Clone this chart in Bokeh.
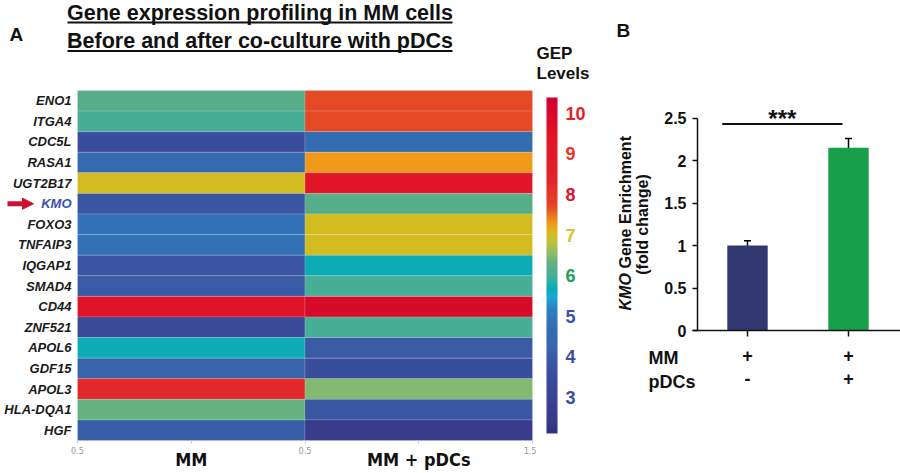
import numpy as np
from bokeh.plotting import figure
from bokeh.layouts import row
from bokeh.models import (Range1d, LinearColorMapper, FixedTicker, Label, Arrow, LinearAxis,
                          NormalHead, Whisker, TeeHead, ColumnDataSource)
from bokeh.transform import transform
from bokeh.embed import file_html
from bokeh.resources import INLINE
from bokeh.core.properties import value

# ---------------- data ----------------
genes = ["ENO1", "ITGA4", "CDC5L", "RASA1", "UGT2B17", "KMO", "FOXO3", "TNFAIP3",
         "IQGAP1", "SMAD4", "CD44", "ZNF521", "APOL6", "GDF15", "APOL3", "HLA-DQA1", "HGF"]
conditions = ["MM", "MM + pDCs"]
gep_mm = [6.2, 6.0, 3.5, 4.5, 7.0, 3.8, 4.8, 4.8, 3.8, 4.0, 9.5, 3.2, 5.7, 4.3, 8.3, 6.3, 4.1]
gep_mm_pdcs = [7.7, 7.7, 4.6, 7.3, 9.4, 6.2, 7.0, 7.0, 5.7, 6.0, 10.0, 6.0, 4.0, 3.5, 6.5, 3.9, 2.5]
highlight_gene = "KMO"
heat_x_ticks = [0, 1, 2]
heat_x_tick_labels = ["0.5", "0.5", "1.5"]
level_ticks = [3, 4, 5, 6, 7, 8, 9, 10]
level_low, level_high = 2.11, 10.39

kmo_groups = ["MM", "MM + pDCs"]
kmo_fold_change = [1.0, 2.15]
kmo_error = [0.055, 0.11]
mm_present = ["+", "+"]
pdcs_present = ["-", "+"]
bar_y_ticks = [0, 0.5, 1, 1.5, 2, 2.5]
bar_y_labels = ["0", "0.5", "1", "1.5", "2", "2.5"]
significance = "***"
sig_from, sig_to, sig_level = 0.75, 1.94, 2.43

# ---------------- styles ----------------
FONT = "Liberation Sans"
NARROW = "Liberation Sans Narrow, DejaVu Sans Condensed, Liberation Sans"
INK = "#111111"
H = 473
anchors = [(2.11, "#2E3480"), (2.5, "#393B8C"), (3.2, "#3A4898"), (3.5, "#3A4D9C"),
           (3.8, "#3A55A2"), (4.0, "#3A5AA6"), (4.3, "#3866AC"), (4.6, "#346CB0"),
           (4.8, "#3271B5"), (5.2, "#2C80C4"), (5.45, "#1CA6DC"), (5.7, "#0BACB4"),
           (6.0, "#48AF98"), (6.2, "#55AE88"), (6.5, "#82BA6E"), (6.8, "#B8C040"),
           (7.0, "#D2BE22"), (7.3, "#F09A1A"), (7.7, "#E44826"), (8.3, "#E2282A"),
           (9.0, "#E01A28"), (9.5, "#E01426"), (10.0, "#D80A2A"), (10.39, "#D00030")]
tick_colors = ["#3C4CA0", "#3C4EA4", "#3C52A8", "#1E9E5A", "#D8C42A", "#E0142C", "#E6362A", "#E2222A"]
bar_colors = ["#30386F", "#17A049"]


def build_palette(anc, low, high, n=256):
    vals = np.array([a[0] for a in anc])
    rgb = np.array([[int(c[i:i + 2], 16) for i in (1, 3, 5)] for _, c in anc], float)
    out = []
    for g in np.linspace(low, high, n):
        r = [int(round(np.interp(g, vals, rgb[:, k]))) for k in range(3)]
        out.append("#%02x%02x%02x" % tuple(r))
    return out


mapper = LinearColorMapper(palette=build_palette(anchors, level_low, level_high),
                           low=level_low, high=level_high)


def make_fig(w, xr, yr):
    f = figure(width=w, height=H, x_range=xr, y_range=yr, min_border=0,
               min_border_left=0, min_border_right=0, min_border_top=0, min_border_bottom=0,
               output_backend="svg", toolbar_location=None, tools="")
    f.grid.visible = False
    f.outline_line_color = None
    return f


# ---------------- heatmap (page px 0..536) ----------------
n = len(genes)
FX0, FX1, FY0, FY1 = 77, 532, 90, 440  # page px of the heatmap cells
SX = len(conditions) / (FX1 - FX0)
SY = n / (FY1 - FY0)


def hx(px):
    return (px - FX0) * SX


def hy(py):
    return (FY1 - py) * SY


p1 = make_fig(536, Range1d(hx(0), hx(536)), Range1d(hy(H), hy(0)))

xs, ys, vs = [], [], []
for ci, series in enumerate([gep_mm, gep_mm_pdcs]):
    for gi, v in enumerate(series):
        xs.append(ci + 0.5)
        ys.append(n - gi - 0.5)
        vs.append(v)
src = ColumnDataSource(dict(x=xs, y=ys, v=vs))
p1.rect(x="x", y="y", width=1, height=1, source=src, fill_color=transform("v", mapper),
        line_color="white", line_alpha=0.2, line_width=0.8)

xa = p1.xaxis[0]
xa.fixed_location = 0
xa.ticker = FixedTicker(ticks=heat_x_ticks, minor_ticks=[0.5, 1.5])
xa.major_label_overrides = {t: l for t, l in zip(heat_x_ticks, heat_x_tick_labels)}
xa.major_label_text_font_size = "9px"
xa.major_label_text_color = "#999999"
xa.major_label_text_font = NARROW
xa.major_label_standoff = 3
xa.axis_line_color = None
xa.major_tick_out = 3
xa.major_tick_in = 0
xa.minor_tick_out = 3
xa.minor_tick_in = 0
xa.major_tick_line_color = "#cccccc"
xa.minor_tick_line_color = "#cccccc"

cond_pos = [i + 0.5 for i in range(len(conditions))]
xa2 = LinearAxis(fixed_location=0, ticker=FixedTicker(ticks=cond_pos),
                 major_label_overrides={p: c for p, c in zip(cond_pos, conditions)},
                 major_label_text_font=NARROW, major_label_text_font_style="bold",
                 major_label_text_font_size="18px", major_label_text_color=INK,
                 major_label_standoff=8, axis_line_color=None, major_tick_line_color=None,
                 minor_tick_line_color=None, major_tick_out=0, minor_tick_out=0)
p1.add_layout(xa2, "below")

ya = p1.yaxis[0]
ya.fixed_location = 0
gene_ticks = [n - i - 0.5 for i, g in enumerate(genes) if g != highlight_gene]
ya.ticker = FixedTicker(ticks=gene_ticks)
ya.major_label_overrides = {n - i - 0.5: g for i, g in enumerate(genes) if g != highlight_gene}
ya.major_label_text_font = FONT
ya.major_label_text_font_style = "bold italic"
ya.major_label_text_font_size = "13px"
ya.major_label_text_color = "#1a1a1a"
ya.major_label_standoff = 6
ya.axis_line_color = None
ya.major_tick_line_color = None
ya.minor_tick_line_color = None
ya.major_tick_out = 0
ya.minor_tick_out = 0

k = genes.index(highlight_gene)
yk = n - k - 0.5
p1.add_layout(Label(x=0, y=yk, x_offset=-6, text=highlight_gene, text_align="right",
                    text_baseline="middle", text_font=FONT, text_font_style="bold italic",
                    text_font_size="13px", text_color="#3A50B4"))
p1.add_layout(Arrow(x_start=hx(7), x_end=hx(33), y_start=yk, y_end=yk, line_color="#CC1030",
                    line_width=5, end=NormalHead(size=11, fill_color="#CC1030", line_color="#CC1030")))

title_lines = ["Gene expression profiling in MM cells", "Before and after co-culture with pDCs"]
for line, mid, ul in zip(title_lines, [12, 40.5], [22, 50.5]):
    p1.add_layout(Label(x=hx(259.5), y=hy(mid), text=line, text_align="center",
                        text_baseline="middle", text_font=FONT, text_font_style="bold",
                        text_font_size="21.5px", text_color=INK))
    p1.line(x=[hx(67), hx(452)], y=[hy(ul), hy(ul)], line_color=INK, line_width=2)
p1.add_layout(Label(x=hx(9), y=hy(34), text="A", text_baseline="middle", text_font=FONT,
                    text_font_style="bold", text_font_size="19px", text_color=INK))

# ---------------- colour scale (page px 536..600) ----------------
CB_TOP, CB_BOT, CB_LEFT = 97, 433, 546
KC = (level_high - level_low) / (CB_BOT - CB_TOP)


def cy(py):
    return level_high + (CB_TOP - py) * KC


p3 = make_fig(64, Range1d(536 - CB_LEFT, 600 - CB_LEFT), Range1d(cy(H), cy(0)))
grad = np.linspace(level_low, level_high, 400).reshape(-1, 1)
p3.image(image=[grad], x=0, y=level_low, dw=11, dh=level_high - level_low, color_mapper=mapper)
p3.text(x=[19] * len(level_ticks), y=level_ticks, text=[str(t) for t in level_ticks],
        text_color=tick_colors, text_font=value(FONT), text_font_style="bold",
        text_font_size="18px", text_baseline="middle", text_align="left")
p3.axis.visible = False
for txt, mid in zip(["GEP", "Levels"], [53, 73]):
    p3.add_layout(Label(x=0, x_offset=-10, y=cy(mid), text=txt, text_baseline="middle",
                        text_font=FONT, text_font_style="bold", text_font_size="17px",
                        text_color=INK))

# ---------------- bar chart (page px 600..900) ----------------
BPX, BPY = 101.0, 85.0


def bx(px):
    return 1 + (px - 747) / BPX


def by(py):
    return (330 - py) / BPY


p2 = make_fig(300, Range1d(bx(600), bx(900)), Range1d(by(H), by(0)))

pos = list(range(1, len(kmo_groups) + 1))
bsrc = ColumnDataSource(dict(x=pos, top=kmo_fold_change, color=bar_colors,
                             upper=[f + e for f, e in zip(kmo_fold_change, kmo_error)],
                             lower=[f - e for f, e in zip(kmo_fold_change, kmo_error)]))
p2.vbar(x="x", top="top", width=0.4, fill_color="color", line_color=None, source=bsrc)
p2.add_layout(Whisker(base="x", upper="upper", lower="lower", source=bsrc, line_width=1.5,
                      upper_head=TeeHead(size=7, line_width=1.5),
                      lower_head=TeeHead(size=7, line_width=1.5)))
p2.line(x=[sig_from, sig_to], y=[sig_level, sig_level], line_color=INK, line_width=2)
p2.add_layout(Label(x=(sig_from + sig_to) / 2, y=by(118), text=significance, text_align="center",
                    text_baseline="middle", text_font=FONT, text_font_style="bold",
                    text_font_size="24px", text_color=INK))

yb = p2.yaxis[0]
yb.fixed_location = bx(697)
yb.ticker = FixedTicker(ticks=bar_y_ticks)
yb.major_label_overrides = {t: l for t, l in zip(bar_y_ticks, bar_y_labels)}
yb.bounds = (0, 2.5)
yb.major_label_text_font = FONT
yb.major_label_text_font_style = "bold"
yb.major_label_text_font_size = "16px"
yb.major_label_text_color = INK
yb.major_label_standoff = 6
yb.axis_line_width = 1.5
yb.axis_line_color = INK
yb.major_tick_line_width = 1.5
yb.major_tick_line_color = INK
yb.major_tick_out = 5
yb.major_tick_in = 0
yb.minor_tick_line_color = None

label_style = dict(major_label_text_font=FONT, major_label_text_font_style="bold",
                   major_label_text_font_size="18px", major_label_text_color=INK)
xb = p2.xaxis[0]
xb.fixed_location = 0
xb.ticker = FixedTicker(ticks=pos)
xb.major_label_overrides = {p: m for p, m in zip(pos, mm_present)}
xb.bounds = (bx(692), bx(900))
xb.axis_line_width = 1.5
xb.axis_line_color = INK
xb.major_tick_line_width = 1.5
xb.major_tick_line_color = INK
xb.major_tick_out = 6
xb.major_tick_in = 0
xb.minor_tick_line_color = None
xb.major_label_standoff = 12
for kk, vv in label_style.items():
    setattr(xb, kk, vv)

xb2 = LinearAxis(fixed_location=0, ticker=FixedTicker(ticks=pos),
                 major_label_overrides={p: m for p, m in zip(pos, pdcs_present)},
                 major_label_standoff=41, axis_line_color=None, major_tick_line_color=None,
                 minor_tick_line_color=None, major_tick_out=0, minor_tick_out=0, **label_style)
p2.add_layout(xb2, "below")

# y-axis title (rotated)
p2.add_layout(Label(x=bx(625), y=by(310), text="KMO", angle=np.pi / 2, text_align="left",
                    text_baseline="middle", text_font=FONT, text_font_style="bold italic",
                    text_font_size="16px", text_color=INK))
p2.add_layout(Label(x=bx(625), y=by(268), text="Gene Enrichment", angle=np.pi / 2, text_align="left",
                    text_baseline="middle", text_font=FONT, text_font_style="bold",
                    text_font_size="16px", text_color=INK))
p2.add_layout(Label(x=bx(642), y=by(224), text="(fold change)", angle=np.pi / 2, text_align="center",
                    text_baseline="middle", text_font=FONT, text_font_style="bold",
                    text_font_size="16px", text_color=INK))

for name, py in [("MM", 357), ("pDCs", 381)]:
    p2.add_layout(Label(x=bx(648), y=by(py), text=name, text_baseline="middle", text_font=FONT,
                        text_font_style="bold", text_font_size="18px", text_color=INK))
p2.add_layout(Label(x=bx(616), y=by(30), text="B", text_baseline="middle", text_font=FONT,
                    text_font_style="bold", text_font_size="19px", text_color=INK))

layout = row(p1, p3, p2, spacing=0)
open("out.html", "w").write(file_html(layout, INLINE))
